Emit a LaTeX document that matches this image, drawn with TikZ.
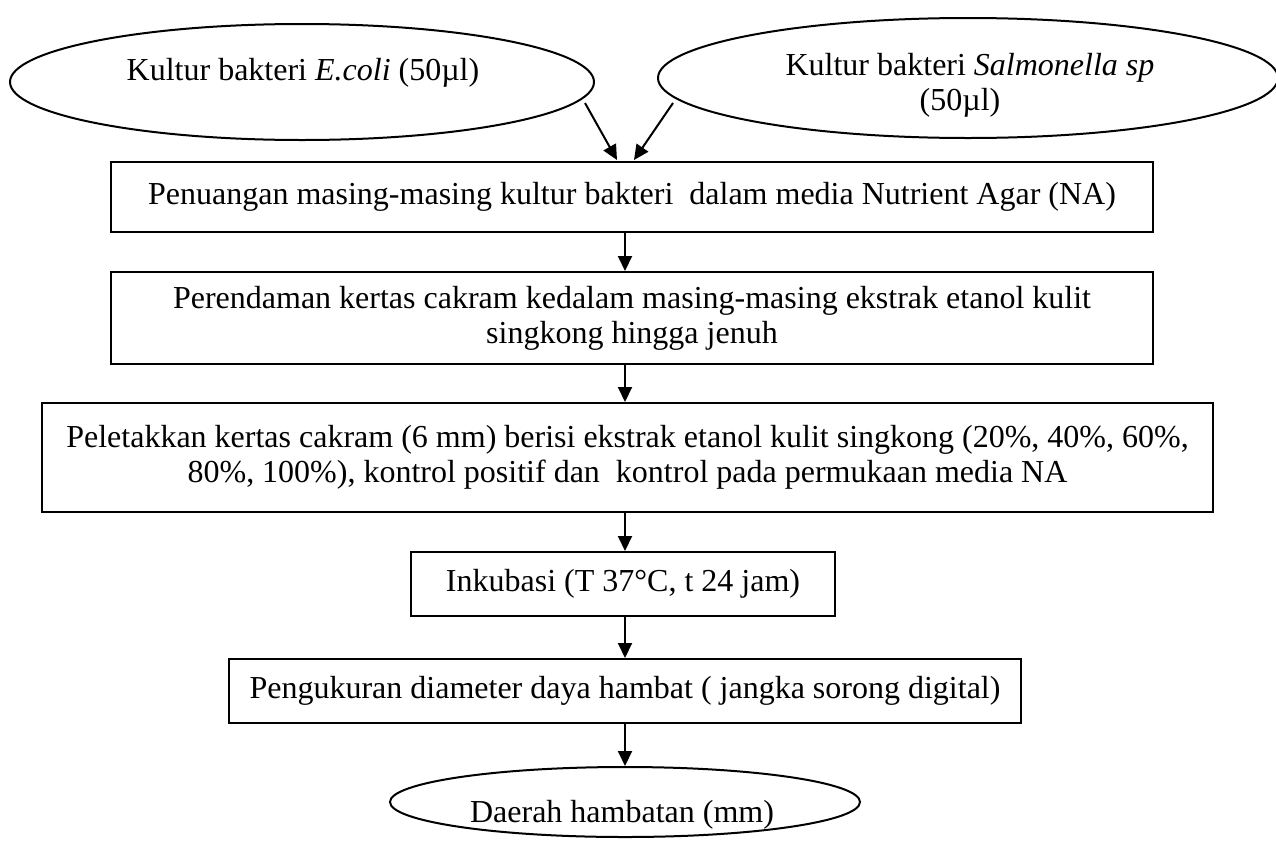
\documentclass[tikz,border=0pt]{standalone}
\usepackage{fontspec}
\setmainfont{Liberation Serif}
\usetikzlibrary{shapes.geometric,arrows.meta}
\begin{document}
\begin{tikzpicture}[x=1pt,y=-1pt,
  every node/.style={font=\fontsize{32}{35}\selectfont},
  box/.style={draw, line width=2pt, rectangle, inner sep=0pt, align=center},
  oval/.style={draw, line width=2pt, ellipse, inner sep=0pt},
  arr/.style={line width=2pt, -{Triangle[length=15pt,width=14pt]}}]
\useasboundingbox (0,0) rectangle (1276,841);
% top ellipses
\node[oval, minimum width=584pt, minimum height=116pt] (e1) at (302,82) {};
\node[anchor=base] (t1) at (303,80) {Kultur bakteri \textit{E.coli} (50µl)};
\node[oval, minimum width=620pt, minimum height=120pt] (e2) at (968,78) {};
\node[anchor=base] (t2a) at (970,75) {Kultur bakteri \textit{Salmonella sp}};
\node[anchor=base] (t2b) at (960,110) {(50µl)};
% boxes
\node[box, minimum width=1042pt, minimum height=70pt] (b1) at (632,197)
  {Penuangan masing-masing kultur bakteri\ \ dalam media Nutrient Agar (NA)};
\node[box, minimum width=1042pt, minimum height=92pt] (b2) at (632,318)
  {Perendaman kertas cakram kedalam masing-masing ekstrak etanol kulit\\singkong hingga jenuh};
\node[box, minimum width=1171pt, minimum height=109pt] (b3) at (627.5,457.5)
  {Peletakkan kertas cakram (6 mm) berisi ekstrak etanol kulit singkong (20\%, 40\%, 60\%,\\80\%, 100\%), kontrol positif dan\ \ kontrol pada permukaan media NA};
\node[box, minimum width=424pt, minimum height=64pt] (b4) at (623,584)
  {Inkubasi (T 37°C, t 24 jam)};
\node[box, minimum width=792pt, minimum height=64pt] (b5) at (625,691)
  {Pengukuran diameter daya hambat ( jangka sorong digital)};
% bottom ellipse
\node[oval, minimum width=470pt, minimum height=70pt] (e3) at (625,802) {};
\node[anchor=base] (t3) at (622,822) {Daerah hambatan (mm)};
% connectors
\coordinate (a1s) at (585,103);
\coordinate (a1e) at (617,160);
\coordinate (a2s) at (673,103);
\coordinate (a2e) at (634,160);
\draw[arr] (a1s) -- (a1e);
\draw[arr] (a2s) -- (a2e);
\draw[arr] (b1.south -| e3.center) -- (b2.north -| e3.center);
\draw[arr] (b2.south -| e3.center) -- (b3.north -| e3.center);
\draw[arr] (b3.south -| e3.center) -- (b4.north -| e3.center);
\draw[arr] (b4.south -| e3.center) -- (b5.north -| e3.center);
\draw[arr] (b5.south -| e3.center) -- (e3.north);
\end{tikzpicture}
\end{document}
